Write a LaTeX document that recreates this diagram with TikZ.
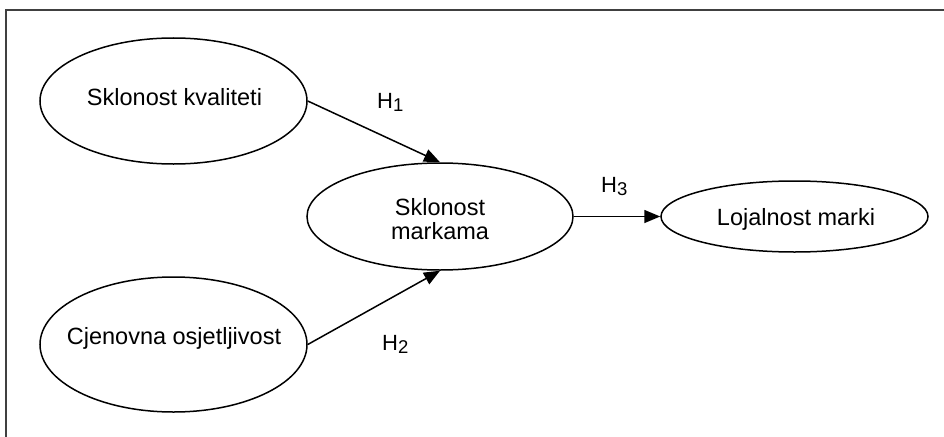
\documentclass[tikz,border=0pt]{standalone}
\usepackage{fontspec}
\setmainfont{Liberation Sans}
\usetikzlibrary{shapes.geometric,arrows.meta}
\newcommand{\hsub}[1]{H\raisebox{-3pt}{\fontsize{18.5}{20}\selectfont #1}}
\begin{document}
\begin{tikzpicture}[x=1pt,y=-1pt,
  construct/.style={draw=black,line width=1.5pt,ellipse,inner sep=0pt},
  ctext/.style={inner sep=0pt,align=center,font=\fontsize{23.5}{24}\selectfont},
  link/.style={draw=black,line width=1.5pt,-{Triangle[length=16pt,width=13pt]}},
  hyp/.style={anchor=base west,inner sep=0pt,font=\fontsize{22}{24}\selectfont},
  frameline/.style={draw=black!75,line width=1.4pt}]
\useasboundingbox (0,0) rectangle (944,436);
\coordinate (fa) at (6,440);
\coordinate (fb) at (6,10);
\coordinate (fc) at (948,10);
\draw[frameline] (fa) -- (fb) -- (fc);
\node[construct,minimum width=267pt,minimum height=126pt] (e1) at (173.5,101) {};
\node[construct,minimum width=267pt,minimum height=135pt] (e2) at (173.5,344.5) {};
\node[construct,minimum width=266pt,minimum height=107pt] (e3) at (440,216.5) {};
\node[construct,minimum width=267pt,minimum height=71pt] (e4) at (794.5,216.5) {};
\node[ctext,anchor=base] (t1) at (174.5,105) {Sklonost kvaliteti};
\node[ctext,anchor=base] (t2) at (174,344) {Cjenovna osjetljivost};
\node[ctext] (t3) at (440,219) {Sklonost\\markama};
\node[ctext,anchor=base] (t4) at (796,225) {Lojalnost marki};
\draw[link] (e1.east) -- (e3.north);
\draw[link] (e2.east) -- (e3.south);
\draw[link] (e3.east) -- (e4.west);
\node[hyp] (h1) at (377,108) {\hsub{1}};
\node[hyp] (h2) at (382,350) {\hsub{2}};
\node[hyp] (h3) at (601,192) {\hsub{3}};
\end{tikzpicture}
\end{document}
